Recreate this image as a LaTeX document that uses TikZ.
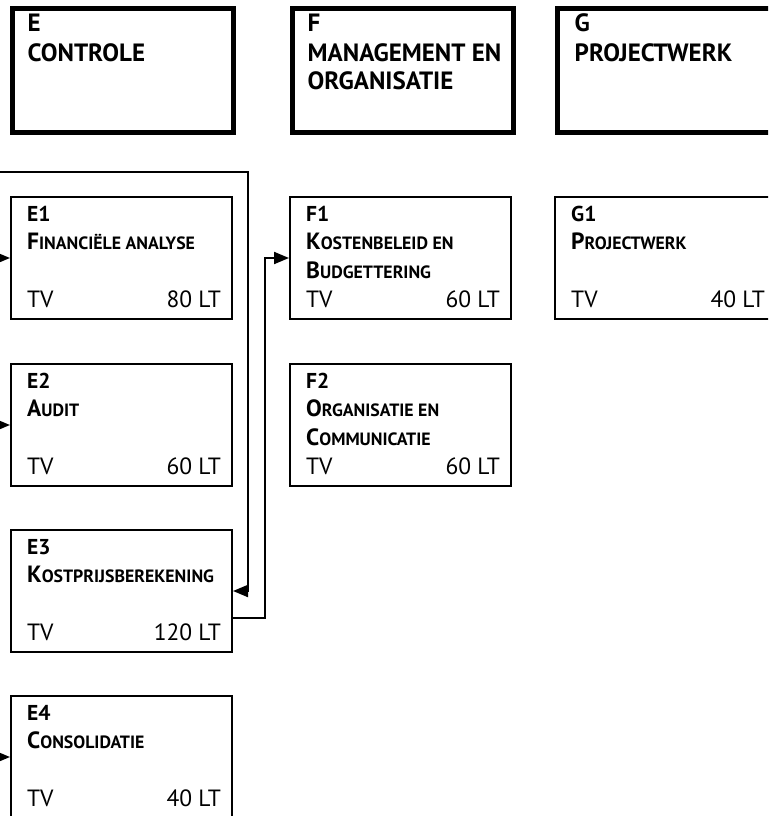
\documentclass[tikz,border=0pt]{standalone}
\usepackage{fontspec}
\setmainfont{PT Sans}
\usetikzlibrary{arrows.meta}

\newcommand{\klein}[2]{{\fontsize{23.5}{23.5}\selectfont #1}{\fontsize{17.8}{17.8}\selectfont\MakeUppercase{#2}}}

\tikzset{
  hoofd/.style={draw, line width=5pt, minimum width=221pt, minimum height=123pt, anchor=north west, inner sep=0pt},
  vak/.style={draw, line width=2pt, minimum width=221pt, minimum height=122pt, anchor=north west, inner sep=0pt},
  kop/.style={anchor=base west, inner sep=0pt, font=\fontsize{25}{25}\selectfont\bfseries},
  code/.style={anchor=base west, inner sep=0pt, font=\fontsize{21.5}{21.5}\selectfont\bfseries},
  titel/.style={anchor=base west, inner sep=0pt, font=\bfseries},
  uren/.style={anchor=base west, inner sep=0pt, font=\fontsize{23.5}{23.5}\selectfont},
  lijn/.style={line width=2pt},
  pijl/.style={line width=2pt, -{Triangle[length=15pt,width=12pt]}},
}

% naam, x, y, code, regel 1, regel 2, uren
\newcommand{\vak}[7]{%
  \node[vak] (#1) at (#2,#3) {};
  \node[code] (#1-code) at (#2+17,#3+25) {#4};
  \node[titel] (#1-r1) at (#2+17,#3+53) {#5};
  \if\relax\detokenize{#6}\relax\else
    \node[titel] (#1-r2) at (#2+17,#3+82) {#6};
  \fi
  \node[uren] (#1-tv) at (#2+17,#3+111) {TV};
  \node[uren, anchor=base east] (#1-lt) at (#2+211,#3+111) {#7};
}

\begin{document}
\begin{tikzpicture}[x=1pt, y=-1pt]
    \useasboundingbox (0,0) rectangle (768,816);
    \clip (0,0) rectangle (768,816);

    % hoofdgroepen
    \node[hoofd] (e) at (9.5,6.5) {};
    \node[kop] (e-code) at (27.5,32) {E};
    \node[kop] (e-naam) at (27.5,61) {CONTROLE};
    \node[hoofd] (f) at (289.5,6.5) {};
    \node[kop] (f-code) at (307.5,32) {F};
    \node[kop] (f-naam1) at (307.5,61) {MANAGEMENT EN};
    \node[kop] (f-naam2) at (307.5,89) {ORGANISATIE};
    \node[hoofd] (g) at (554.5,6.5) {};
    \node[kop] (g-code) at (574.5,32) {G};
    \node[kop] (g-naam) at (574.5,61) {PROJECTWERK};

    % vakken
    \vak{e1}{10}{196}{E1}{\klein{F}{inanciële analyse}}{}{80 LT}
    \vak{e2}{10}{363}{E2}{\klein{A}{udit}}{}{60 LT}
    \vak{e3}{10}{529}{E3}{\klein{K}{ostprijsberekening}}{}{120 LT}
    \vak{e4}{10}{695}{E4}{\klein{C}{onsolidatie}}{}{40 LT}
    \vak{f1}{289}{196}{F1}{\klein{K}{ostenbeleid en}}{\klein{B}{udgettering}}{60 LT}
    \vak{f2}{289}{363}{F2}{\klein{O}{rganisatie en}}{\klein{C}{ommunicatie}}{60 LT}
    \vak{g1}{554}{196}{G1}{\klein{P}{rojectwerk}}{}{40 LT}

    % verbindingen
    \coordinate (bron) at (0,172);
    \coordinate (k1) at (248,0);
    \coordinate (k2) at (265,0);
    \draw[pijl] (e1.west -| bron) -- (e1.west);
    \draw[pijl] (e2.west -| bron) -- (e2.west);
    \draw[pijl] (e4.west -| bron) -- (e4.west);
    \draw[pijl] (bron) -| (k1 |- e3.east) -- (e3.east);
    \draw[pijl] ([yshift=-27pt]e3.east) -| (k2 |- f1.west) -- (f1.west);
\end{tikzpicture}
\end{document}
